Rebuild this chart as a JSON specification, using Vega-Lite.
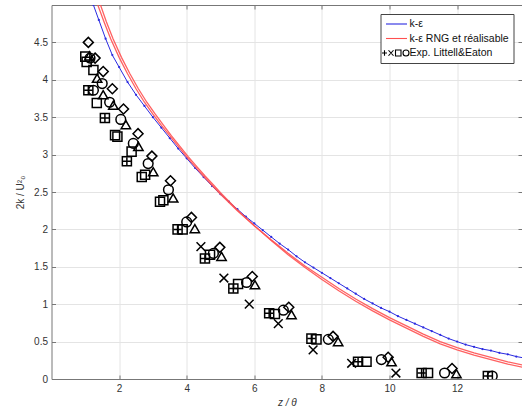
{
  "$schema": "https://vega.github.io/schema/vega-lite/v6.json",
  "autosize": {"type": "none"},
  "padding": {"left": 51.5, "top": 5, "right": 0, "bottom": 30},
  "width": 470.5,
  "height": 374,
  "background": "white",
  "config": {
    "font": "Liberation Sans",
    "view": {"stroke": null},
    "axis": {
      "domainColor": "#777",
      "tickColor": "#777",
      "tickSize": -4,
      "gridColor": "#e4e4e4",
      "gridWidth": 1,
      "labelFont": "Liberation Sans",
      "labelFontSize": 10,
      "labelColor": "#333",
      "titleFont": "Liberation Sans",
      "titleFontSize": 10,
      "titleFontWeight": "normal",
      "titleColor": "#333"
    }
  },
  "datasets": {
    "keps": [
      {"x": 1.24, "y": 5.00}, {"x": 1.4, "y": 4.80}, {"x": 1.6, "y": 4.55}, {"x": 1.8, "y": 4.33},
      {"x": 2.0, "y": 4.17}, {"x": 2.25, "y": 3.97}, {"x": 2.5, "y": 3.80}, {"x": 2.75, "y": 3.65},
      {"x": 3.0, "y": 3.50}, {"x": 3.25, "y": 3.36}, {"x": 3.5, "y": 3.22}, {"x": 3.75, "y": 3.08},
      {"x": 4.0, "y": 2.95}, {"x": 4.25, "y": 2.82}, {"x": 4.5, "y": 2.70}, {"x": 4.75, "y": 2.58},
      {"x": 5.0, "y": 2.47}, {"x": 5.25, "y": 2.37}, {"x": 5.5, "y": 2.27}, {"x": 5.75, "y": 2.17},
      {"x": 6.0, "y": 2.08}, {"x": 6.25, "y": 1.99}, {"x": 6.5, "y": 1.90}, {"x": 6.75, "y": 1.81},
      {"x": 7.0, "y": 1.73}, {"x": 7.25, "y": 1.64}, {"x": 7.5, "y": 1.56}, {"x": 7.75, "y": 1.49},
      {"x": 8.0, "y": 1.42}, {"x": 8.25, "y": 1.35}, {"x": 8.5, "y": 1.28}, {"x": 8.75, "y": 1.21},
      {"x": 9.0, "y": 1.14}, {"x": 9.25, "y": 1.07}, {"x": 9.5, "y": 1.01}, {"x": 9.75, "y": 0.95},
      {"x": 10.0, "y": 0.90}, {"x": 10.25, "y": 0.84}, {"x": 10.5, "y": 0.79}, {"x": 10.75, "y": 0.74},
      {"x": 11.0, "y": 0.69}, {"x": 11.25, "y": 0.64}, {"x": 11.5, "y": 0.59}, {"x": 11.75, "y": 0.54},
      {"x": 12.0, "y": 0.50}, {"x": 12.25, "y": 0.46}, {"x": 12.5, "y": 0.43}, {"x": 12.75, "y": 0.40},
      {"x": 13.0, "y": 0.38}, {"x": 13.25, "y": 0.35}, {"x": 13.5, "y": 0.33}, {"x": 13.75, "y": 0.30},
      {"x": 14.0, "y": 0.28}
    ],
    "rng": [
      {"model": "RNG", "x": 1.37, "y": 5.00}, {"model": "RNG", "x": 1.55, "y": 4.78}, {"model": "RNG", "x": 1.75, "y": 4.55},
      {"model": "RNG", "x": 2.0, "y": 4.30}, {"model": "RNG", "x": 2.25, "y": 4.08}, {"model": "RNG", "x": 2.5, "y": 3.88},
      {"model": "RNG", "x": 2.75, "y": 3.70}, {"model": "RNG", "x": 3.0, "y": 3.54}, {"model": "RNG", "x": 3.25, "y": 3.39},
      {"model": "RNG", "x": 3.5, "y": 3.25}, {"model": "RNG", "x": 3.75, "y": 3.11}, {"model": "RNG", "x": 4.0, "y": 2.97},
      {"model": "RNG", "x": 4.25, "y": 2.84}, {"model": "RNG", "x": 4.5, "y": 2.71}, {"model": "RNG", "x": 4.75, "y": 2.59},
      {"model": "RNG", "x": 5.0, "y": 2.47}, {"model": "RNG", "x": 5.25, "y": 2.36}, {"model": "RNG", "x": 5.5, "y": 2.25},
      {"model": "RNG", "x": 5.75, "y": 2.15}, {"model": "RNG", "x": 6.0, "y": 2.05}, {"model": "RNG", "x": 6.5, "y": 1.86},
      {"model": "RNG", "x": 7.0, "y": 1.68}, {"model": "RNG", "x": 7.5, "y": 1.51}, {"model": "RNG", "x": 8.0, "y": 1.36},
      {"model": "RNG", "x": 8.5, "y": 1.21}, {"model": "RNG", "x": 9.0, "y": 1.07}, {"model": "RNG", "x": 9.5, "y": 0.94},
      {"model": "RNG", "x": 10.0, "y": 0.82}, {"model": "RNG", "x": 10.5, "y": 0.71}, {"model": "RNG", "x": 11.0, "y": 0.60},
      {"model": "RNG", "x": 11.5, "y": 0.50}, {"model": "RNG", "x": 12.0, "y": 0.42}, {"model": "RNG", "x": 12.5, "y": 0.35},
      {"model": "RNG", "x": 13.0, "y": 0.29}, {"model": "RNG", "x": 13.5, "y": 0.23}, {"model": "RNG", "x": 14.0, "y": 0.18},
      {"model": "realisable", "x": 1.45, "y": 5.00}, {"model": "realisable", "x": 1.62, "y": 4.78}, {"model": "realisable", "x": 1.82, "y": 4.55},
      {"model": "realisable", "x": 2.07, "y": 4.30}, {"model": "realisable", "x": 2.32, "y": 4.08}, {"model": "realisable", "x": 2.57, "y": 3.88},
      {"model": "realisable", "x": 2.82, "y": 3.70}, {"model": "realisable", "x": 3.07, "y": 3.54}, {"model": "realisable", "x": 3.3, "y": 3.40},
      {"model": "realisable", "x": 3.55, "y": 3.25}, {"model": "realisable", "x": 3.8, "y": 3.11}, {"model": "realisable", "x": 4.05, "y": 2.97},
      {"model": "realisable", "x": 4.3, "y": 2.84}, {"model": "realisable", "x": 4.55, "y": 2.71}, {"model": "realisable", "x": 4.8, "y": 2.59},
      {"model": "realisable", "x": 5.0, "y": 2.49}, {"model": "realisable", "x": 5.5, "y": 2.26}, {"model": "realisable", "x": 6.0, "y": 2.05},
      {"model": "realisable", "x": 6.5, "y": 1.85}, {"model": "realisable", "x": 7.0, "y": 1.66}, {"model": "realisable", "x": 7.5, "y": 1.49},
      {"model": "realisable", "x": 8.0, "y": 1.33}, {"model": "realisable", "x": 8.5, "y": 1.18}, {"model": "realisable", "x": 9.0, "y": 1.04},
      {"model": "realisable", "x": 9.5, "y": 0.91}, {"model": "realisable", "x": 10.0, "y": 0.79}, {"model": "realisable", "x": 10.5, "y": 0.68},
      {"model": "realisable", "x": 11.0, "y": 0.57}, {"model": "realisable", "x": 11.5, "y": 0.47}, {"model": "realisable", "x": 12.0, "y": 0.39},
      {"model": "realisable", "x": 12.5, "y": 0.32}, {"model": "realisable", "x": 13.0, "y": 0.26}, {"model": "realisable", "x": 13.5, "y": 0.20},
      {"model": "realisable", "x": 14.0, "y": 0.15}
    ],
    "exp": [
      {"m": "diamond", "x": 1.09, "y": 4.50}, {"m": "diamond", "x": 1.29, "y": 4.29}, {"m": "diamond", "x": 1.53, "y": 4.11},
      {"m": "diamond", "x": 1.80, "y": 3.88}, {"m": "diamond", "x": 2.13, "y": 3.61}, {"m": "diamond", "x": 2.56, "y": 3.28},
      {"m": "diamond", "x": 2.97, "y": 2.98}, {"m": "diamond", "x": 3.52, "y": 2.65}, {"m": "diamond", "x": 4.14, "y": 2.16},
      {"m": "diamond", "x": 4.98, "y": 1.76}, {"m": "diamond", "x": 5.94, "y": 1.37}, {"m": "diamond", "x": 7.02, "y": 0.96},
      {"m": "diamond", "x": 8.33, "y": 0.57}, {"m": "diamond", "x": 9.96, "y": 0.29}, {"m": "diamond", "x": 11.85, "y": 0.14},
      {"m": "circle", "x": 1.14, "y": 4.29}, {"m": "circle", "x": 1.24, "y": 3.86}, {"m": "circle", "x": 1.50, "y": 3.95},
      {"m": "circle", "x": 1.72, "y": 3.70}, {"m": "circle", "x": 2.05, "y": 3.47}, {"m": "circle", "x": 2.42, "y": 3.15},
      {"m": "circle", "x": 2.86, "y": 2.88}, {"m": "circle", "x": 3.46, "y": 2.53}, {"m": "circle", "x": 4.00, "y": 2.10},
      {"m": "circle", "x": 4.79, "y": 1.68}, {"m": "circle", "x": 5.77, "y": 1.29}, {"m": "circle", "x": 6.86, "y": 0.92},
      {"m": "circle", "x": 8.19, "y": 0.53}, {"m": "circle", "x": 9.76, "y": 0.26}, {"m": "circle", "x": 11.63, "y": 0.08},
      {"m": "circle", "x": 13.04, "y": 0.04},
      {"m": "triangle", "x": 1.12, "y": 4.32}, {"m": "triangle", "x": 1.35, "y": 4.02}, {"m": "triangle", "x": 1.53, "y": 3.80},
      {"m": "triangle", "x": 1.83, "y": 3.66}, {"m": "triangle", "x": 2.20, "y": 3.40}, {"m": "triangle", "x": 2.57, "y": 3.11},
      {"m": "triangle", "x": 3.01, "y": 2.77}, {"m": "triangle", "x": 3.60, "y": 2.42}, {"m": "triangle", "x": 4.24, "y": 2.01},
      {"m": "triangle", "x": 5.03, "y": 1.64}, {"m": "triangle", "x": 6.02, "y": 1.26}, {"m": "triangle", "x": 7.10, "y": 0.86},
      {"m": "triangle", "x": 8.48, "y": 0.50}, {"m": "triangle", "x": 10.06, "y": 0.23}, {"m": "triangle", "x": 11.98, "y": 0.07},
      {"m": "square", "x": 1.00, "y": 4.31}, {"m": "square", "x": 1.04, "y": 4.24}, {"m": "square", "x": 1.09, "y": 3.86},
      {"m": "square", "x": 1.24, "y": 4.13}, {"m": "square", "x": 1.34, "y": 3.69}, {"m": "square", "x": 1.58, "y": 3.49},
      {"m": "square", "x": 1.88, "y": 3.26}, {"m": "square", "x": 1.95, "y": 3.24}, {"m": "square", "x": 2.23, "y": 2.91},
      {"m": "square", "x": 2.37, "y": 3.04}, {"m": "square", "x": 2.67, "y": 2.70}, {"m": "square", "x": 2.77, "y": 2.73},
      {"m": "square", "x": 3.21, "y": 2.37}, {"m": "square", "x": 3.31, "y": 2.39}, {"m": "square", "x": 3.73, "y": 2.00},
      {"m": "square", "x": 3.88, "y": 2.00}, {"m": "square", "x": 4.54, "y": 1.61}, {"m": "square", "x": 4.69, "y": 1.66},
      {"m": "square", "x": 5.38, "y": 1.21}, {"m": "square", "x": 5.52, "y": 1.27}, {"m": "square", "x": 6.44, "y": 0.88},
      {"m": "square", "x": 6.61, "y": 0.87}, {"m": "square", "x": 7.69, "y": 0.54}, {"m": "square", "x": 7.84, "y": 0.53},
      {"m": "square", "x": 9.07, "y": 0.23}, {"m": "square", "x": 9.32, "y": 0.23}, {"m": "square", "x": 10.95, "y": 0.08},
      {"m": "square", "x": 11.14, "y": 0.08}, {"m": "square", "x": 12.91, "y": 0.04},
      {"m": "x", "x": 4.42, "y": 1.77}, {"m": "x", "x": 5.10, "y": 1.35}, {"m": "x", "x": 5.85, "y": 1.00},
      {"m": "x", "x": 6.71, "y": 0.74}, {"m": "x", "x": 7.74, "y": 0.39}, {"m": "x", "x": 8.88, "y": 0.21},
      {"m": "x", "x": 10.19, "y": 0.08},
      {"m": "plus", "x": 1.09, "y": 3.86}, {"m": "plus", "x": 1.58, "y": 3.49}, {"m": "plus", "x": 2.23, "y": 2.91},
      {"m": "plus", "x": 3.73, "y": 2.00}, {"m": "plus", "x": 4.54, "y": 1.61}, {"m": "plus", "x": 5.38, "y": 1.21},
      {"m": "plus", "x": 6.44, "y": 0.88}, {"m": "plus", "x": 7.69, "y": 0.54}, {"m": "plus", "x": 9.07, "y": 0.23},
      {"m": "plus", "x": 10.95, "y": 0.08}, {"m": "plus", "x": 12.91, "y": 0.04}
    ]
  },
  "resolve": {"axis": {"x": "independent", "y": "independent"}},
  "layer": [
    {
      "data": {"name": "keps"},
      "transform": [{"calculate": "'k-ε'", "as": "serie"}],
      "mark": {"type": "line", "strokeWidth": 1, "clip": true, "point": {"filled": true, "size": 5, "color": "#1a1acc"}},
      "encoding": {
        "x": {
          "field": "x", "type": "quantitative",
          "scale": {"domain": [0, 13.92], "nice": false, "zero": false},
          "axis": {"orient": "bottom", "values": [2, 4, 6, 8, 10, 12], "format": "~g", "labelPadding": 8, "title": "z / θ", "titleFontStyle": "italic", "titlePadding": 4}
        },
        "y": {
          "field": "y", "type": "quantitative",
          "scale": {"domain": [0, 5], "nice": false},
          "axis": {"orient": "left", "values": [0, 0.5, 1, 1.5, 2, 2.5, 3, 3.5, 4, 4.5], "format": "~g", "labelPadding": 8, "title": "2k / U²₀", "titlePadding": 8}
        },
        "color": {
          "field": "serie", "type": "nominal",
          "scale": {"domain": ["k-ε", "k-ε RNG et réalisable", "Exp. Littell&Eaton"], "range": ["#2a2ae0", "#ff5050", "#000000"]},
          "legend": {
            "title": null,
            "orient": "none",
            "legendX": 329,
            "legendY": 9,
            "direction": "vertical",
            "fillColor": "white",
            "strokeColor": "#444",
            "padding": 4,
            "rowPadding": 2.5,
            "labelFont": "Liberation Sans",
            "labelFontSize": 10.5,
            "labelColor": "#111",
            "labelOffset": 7,
            "symbolSize": 100,
            "symbolOffset": 6,
            "symbolStrokeWidth": 1,
            "encode": {
              "symbols": {
                "update": {
                  "shape": {"signal": "datum.value === 'Exp. Littell&Eaton' ? 'M-2.9,0L-1.9,0M-2.4,-0.55L-2.4,0.55M-1.6,-0.55L-0.6,0.55M-1.6,0.55L-0.6,-0.55M-0.2,-0.6L0.9,-0.6L0.9,0.6L-0.2,0.6ZM1.3,0A0.6,0.6 0 1,0 2.5,0A0.6,0.6 0 1,0 1.3,0Z' : 'M-2.1,0L2.1,0'"},
                  "fillOpacity": {"value": 0},
                  "strokeWidth": {"value": 1.1}
                }
              }
            }
          }
        }
      }
    },
    {
      "data": {"name": "rng"},
      "transform": [{"calculate": "'k-ε RNG et réalisable'", "as": "serie"}],
      "mark": {"type": "line", "strokeWidth": 1.3, "clip": true, "opacity": 0.9},
      "encoding": {
        "x": {"field": "x", "type": "quantitative", "axis": null},
        "y": {"field": "y", "type": "quantitative", "axis": null},
        "detail": {"field": "model"},
        "color": {"field": "serie", "type": "nominal"}
      }
    },
    {
      "data": {"name": "exp"},
      "transform": [{"calculate": "'Exp. Littell&Eaton'", "as": "serie"}],
      "mark": {"type": "point", "filled": false, "strokeWidth": 1.5, "clip": true, "opacity": 1},
      "encoding": {
        "x": {
          "field": "x", "type": "quantitative",
          "axis": {"orient": "top", "values": [2, 4, 6, 8, 10, 12], "labels": false, "grid": false, "title": null}
        },
        "y": {
          "field": "y", "type": "quantitative",
          "axis": {"orient": "right", "values": [0, 0.5, 1, 1.5, 2, 2.5, 3, 3.5, 4, 4.5], "labels": false, "grid": false, "title": null}
        },
        "color": {"field": "serie", "type": "nominal"},
        "shape": {
          "field": "m", "type": "nominal",
          "scale": {
            "domain": ["diamond", "circle", "triangle", "square", "x", "plus"],
            "range": ["diamond", "circle", "triangle-up", "square", "M-1,-1L1,1M1,-1L-1,1", "M-1,0L1,0M0,-1L0,1"]
          },
          "legend": null
        },
        "size": {
          "field": "m", "type": "nominal",
          "scale": {"domain": ["diamond", "circle", "triangle", "square", "x", "plus"], "range": [100, 70, 90, 56, 24, 16]},
          "legend": null
        }
      }
    }
  ]
}
